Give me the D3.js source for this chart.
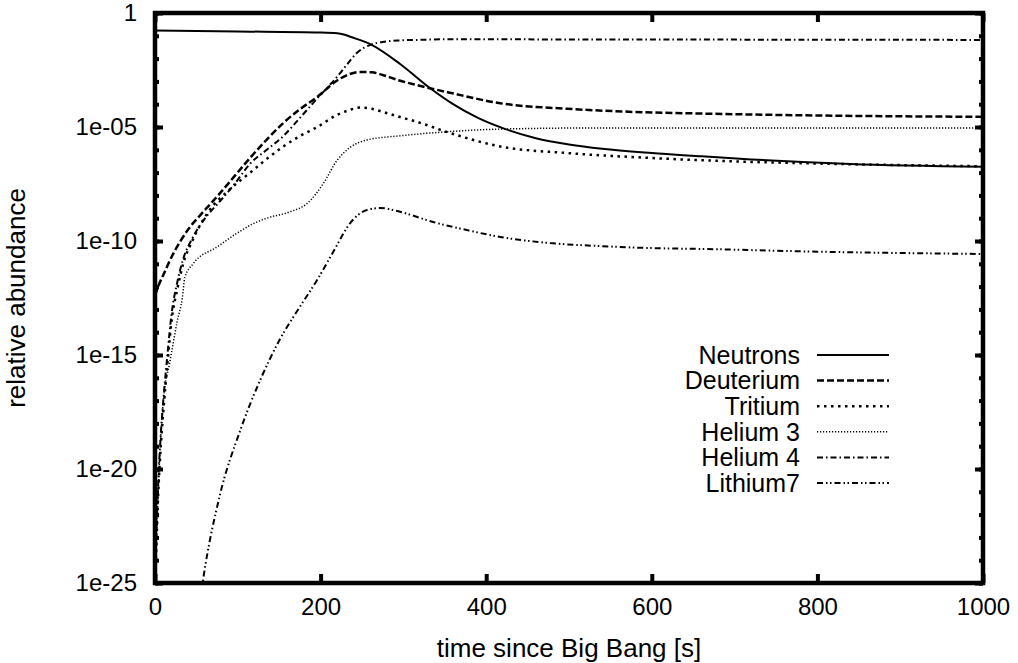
<!DOCTYPE html>
<html>
<head>
<meta charset="utf-8">
<script src="https://cdn.jsdelivr.net/npm/d3@7"></script>
<style>
  body { margin: 0; background: #fff; }
  text { font-family: "Liberation Sans", Arial, Helvetica, sans-serif; }
</style>
</head>
<body>
<svg id="chart" width="1018" height="663"></svg>
<script>
// abundances (time in s)
var neutronT = [0, 100, 200, 220, 228, 236, 260, 296, 332, 360, 390, 420, 460, 500, 540, 600, 660, 720, 840, 1000];
var neutronV = [0.17, 0.155, 0.14, 0.13, 0.115, 0.091, 0.043, 5.8e-3, 5.1e-4, 1.0e-4, 2.5e-5, 8.9e-6, 3.2e-6, 1.7e-6, 1.1e-6, 7.2e-7, 5.2e-7, 3.8e-7, 2.4e-7, 1.8e-7];

var deutT = [0, 5, 10, 20, 30, 40, 55, 75, 95, 115, 135, 155, 175, 196, 220, 235, 248, 262, 275, 295, 316, 356, 417, 498, 577, 658, 800, 1000];
var deutV = [4.0e-13, 1.3e-12, 3.2e-12, 2.0e-11, 8.9e-11, 3.2e-10, 1.4e-9, 8.9e-9, 6.3e-8, 4.5e-7, 2.8e-6, 1.5e-5, 6.0e-5, 2.1e-4, 1.1e-3, 2.1e-3, 2.6e-3, 2.5e-3, 1.9e-3, 1.1e-3, 6.9e-4, 3.2e-4, 1.1e-4, 6.3e-5, 4.6e-5, 3.9e-5, 3.2e-5, 2.8e-5];

var tritT = [0, 2, 4, 7, 10, 15, 20, 27, 34, 45, 63, 90, 115, 135, 155, 175, 196, 220, 235, 248, 262, 275, 295, 316, 356, 417, 498, 577, 658, 800, 1000];
var tritV = [3.2e-26, 1e-23, 1e-21, 1e-19, 3.2e-18, 4.0e-16, 3.2e-14, 7.9e-13, 1e-11, 1.0e-10, 1.6e-9, 1.8e-8, 1.0e-7, 4.0e-7, 1.4e-6, 4.0e-6, 1.0e-5, 3.4e-5, 5.6e-5, 7.1e-5, 6.3e-5, 4.6e-5, 2.8e-5, 1.7e-5, 5.5e-6, 1.4e-6, 7.2e-7, 4.8e-7, 3.5e-7, 2.5e-7, 1.9e-7];

var he3T = [0, 2, 5, 10, 18, 27, 33, 36, 46, 75, 99, 118, 135, 163, 184, 203, 220, 236, 256, 296, 348, 417, 537, 1000];
var he3V = [3.2e-26, 1e-23, 1e-20, 1e-17, 5.0e-16, 3.2e-14, 3.2e-13, 2.5e-12, 1e-11, 5.5e-11, 2.2e-10, 5.6e-10, 1.0e-9, 1.9e-9, 4.5e-9, 3.2e-8, 3.5e-7, 1.3e-6, 2.7e-6, 4.1e-6, 6.0e-6, 8.1e-6, 9.1e-6, 9.1e-6];

var he4T = [0, 2, 4, 7, 10, 15, 20, 27, 34, 45, 63, 75, 95, 115, 135, 155, 175, 196, 210, 220, 232, 244, 260, 275, 296, 316, 356, 500, 700, 1000];
var he4V = [3.2e-26, 3.2e-23, 3.2e-21, 3.2e-19, 1e-17, 1e-15, 6.3e-14, 1.6e-12, 1.6e-11, 1.3e-10, 1.3e-9, 4.0e-9, 2.8e-8, 2.5e-7, 1e-6, 4.0e-6, 2.5e-5, 1.8e-4, 6.3e-4, 1.6e-3, 5.6e-3, 1.8e-2, 4.0e-2, 5.4e-2, 6.3e-2, 6.6e-2, 7.1e-2, 6.9e-2, 6.8e-2, 6.6e-2];

var li7T = [50, 58, 78, 103, 127, 151, 175, 196, 215, 236, 256, 272, 296, 336, 377, 417, 477, 537, 598, 658, 800, 1000];
var li7V = [1e-27, 1.35e-25, 6.3e-22, 5.0e-19, 7.9e-17, 5.0e-15, 1.3e-13, 2.0e-12, 3.2e-11, 6.3e-10, 2.3e-9, 2.8e-9, 1.9e-9, 6.8e-10, 3.0e-10, 1.5e-10, 8.1e-11, 6.0e-11, 4.9e-11, 4.5e-11, 3.4e-11, 2.7e-11];

var seriesNames = ["Neutrons", "Deuterium", "Tritium", "Helium 3", "Helium 4", "Lithium7"];
var xTicks = [0, 200, 400, 600, 800, 1000];
var yMajorTicks = [1, 1e-5, 1e-10, 1e-15, 1e-20, 1e-25];
var yTickLabels = ["1", "1e-05", "1e-10", "1e-15", "1e-20", "1e-25"];

var seriesT = [neutronT, deutT, tritT, he3T, he4T, li7T];
var seriesV = [neutronV, deutV, tritV, he3V, he4V, li7V];
var dashes = [null, "7,3", "2.5,4.5", "1.2,1.8", "6,3,1.5,3", "6,3,1.5,2.5,1.5,3"];
var widths = [2, 2.5, 2.5, 1.5, 2, 2];

var svg = d3.select("#chart");
var margin = {left: 155, top: 13, right: 35, bottom: 80};
var width = +svg.attr("width") - margin.left - margin.right;
var height = +svg.attr("height") - margin.top - margin.bottom;

var xScale = d3.scaleLinear().domain([0, 1000]).range([0, width]);
var yScale = d3.scaleLog().domain([1e-25, 1]).range([height, 0]);

var g = svg.append("g").attr("transform", "translate(" + margin.left + "," + margin.top + ")");

g.append("clipPath").attr("id", "plotclip")
  .append("rect").attr("width", width).attr("height", height);

// one minor tick per decade
var minorTicks = d3.range(-25, 1).map(function(e) { return Math.pow(10, e); });

function styleAxis(sel) {
  sel.select(".domain").remove();
  sel.attr("font-size", 24).attr("font-family", "Liberation Sans, Arial, sans-serif");
  sel.selectAll(".tick line").attr("stroke", "#000").attr("stroke-width", 4);
  sel.selectAll(".tick text").attr("fill", "#000");
}

g.append("g").attr("transform", "translate(0," + height + ")")
  .call(d3.axisBottom(xScale).tickValues(xTicks).tickSize(-9).tickPadding(15).tickFormat(d3.format("d")))
  .call(styleAxis);
g.append("g")
  .call(d3.axisTop(xScale).tickValues(xTicks).tickSize(-9).tickFormat(""))
  .call(styleAxis);

g.append("g")
  .call(d3.axisLeft(yScale).tickValues(minorTicks).tickSize(-4).tickFormat(""))
  .call(styleAxis);
g.append("g")
  .call(d3.axisLeft(yScale).tickValues(yMajorTicks).tickSize(-8).tickPadding(18)
    .tickFormat(function(d, i) { return yTickLabels[i]; }))
  .call(styleAxis);
g.append("g").attr("transform", "translate(" + width + ",0)")
  .call(d3.axisRight(yScale).tickValues(minorTicks).tickSize(-4).tickFormat(""))
  .call(styleAxis);
g.append("g").attr("transform", "translate(" + width + ",0)")
  .call(d3.axisRight(yScale).tickValues(yMajorTicks).tickSize(-8).tickFormat(""))
  .call(styleAxis);

var line = d3.line()
  .x(function(d) { return xScale(d[0]); })
  .y(function(d) { return yScale(d[1]); })
  .curve(d3.curveMonotoneX);

var curves = g.append("g").attr("clip-path", "url(#plotclip)");
seriesNames.forEach(function(name, i) {
  var pts = seriesT[i].map(function(t, j) { return [t, seriesV[i][j]]; });
  curves.append("path")
    .datum(pts)
    .attr("d", line)
    .attr("fill", "none")
    .attr("stroke", "#000")
    .attr("stroke-width", widths[i])
    .attr("stroke-dasharray", dashes[i]);
});

// frame
g.append("rect")
  .attr("width", width).attr("height", height)
  .attr("fill", "none").attr("stroke", "#000").attr("stroke-width", 4.5);

// legend
var legend = g.append("g").attr("transform", "translate(" + (800 - margin.left) + "," + (355 - margin.top) + ")");
seriesNames.forEach(function(name, i) {
  var row = legend.append("g").attr("transform", "translate(0," + (i * 25.6) + ")");
  row.append("text")
    .attr("text-anchor", "end")
    .attr("dy", "0.35em")
    .attr("font-size", 25)
    .text(name);
  row.append("line")
    .attr("x1", 17).attr("x2", 89)
    .attr("stroke", "#000")
    .attr("stroke-width", widths[i])
    .attr("stroke-dasharray", dashes[i]);
});

// axis titles
svg.append("text")
  .attr("x", margin.left + width / 2).attr("y", 657)
  .attr("text-anchor", "middle")
  .attr("font-size", 26)
  .text("time since Big Bang [s]");
svg.append("text")
  .attr("transform", "translate(25," + (margin.top + height / 2) + ") rotate(-90)")
  .attr("text-anchor", "middle")
  .attr("font-size", 26)
  .text("relative abundance");
</script>
</body>
</html>
